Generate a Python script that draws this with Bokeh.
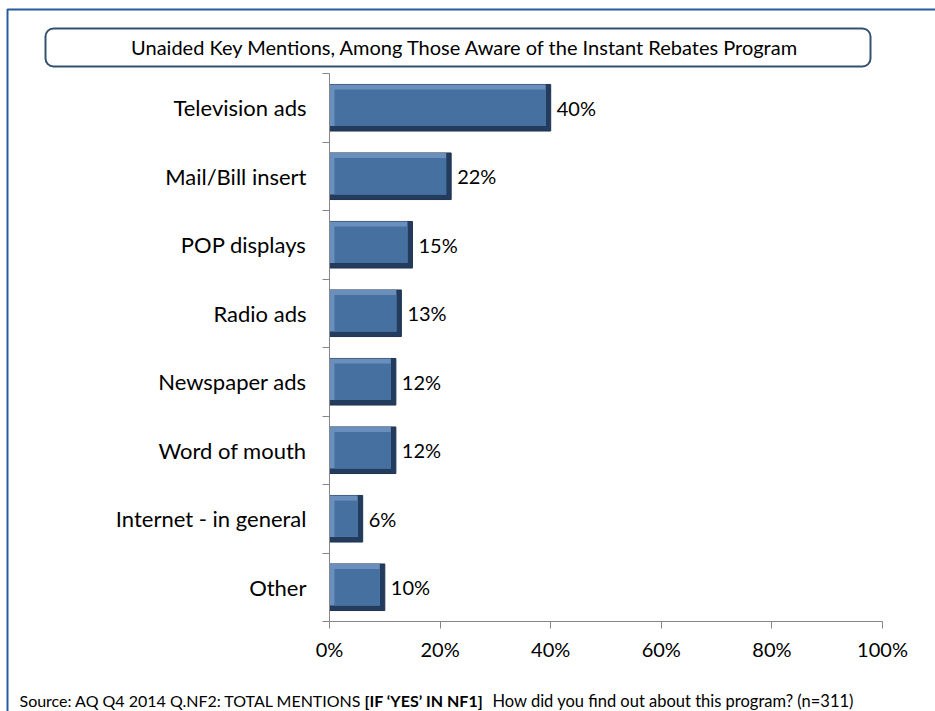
from bokeh.plotting import figure
from bokeh.models import (FixedTicker, Label, BoxAnnotation, ColumnDataSource,
                          LinearAxis, Range1d)
from bokeh.core.properties import value
from bokeh.embed import file_html
from bokeh.resources import INLINE

# ---- data ----
categories = ["Television ads", "Mail/Bill insert", "POP displays", "Radio ads",
              "Newspaper ads", "Word of mouth", "Internet - in general", "Other"]
values = [40, 22, 15, 13, 12, 12, 6, 10]
value_labels = ["40%", "22%", "15%", "13%", "12%", "12%", "6%", "10%"]
x_ticks = [0, 20, 40, 60, 80, 100]
x_tick_labels = ["0%", "20%", "40%", "60%", "80%", "100%"]
title_text = "Unaided Key Mentions, Among Those Aware of the Instant Rebates Program"
source_parts = ["Source: AQ Q4 2014 Q.NF2: TOTAL MENTIONS",
                "[IF \u2018YES\u2019 IN NF1]",
                "How did you find out about this program? (n=311)"]

FONT = "Lato"
W, H = 935, 711
n = len(categories)
centers = [n - 0.5 - i for i in range(n)]
bar_h = 0.68
bx = 0.9      # bevel width in x data units (~5px)
by = 0.075    # bevel height in y data units (~5px)

# plot area (pixels on canvas): 0% at 329, 100% at 882; top band edge 73, axis 621
AX_L, AX_R, AX_T, AX_B = 329, 882, 73, 621
xpx = (AX_R - AX_L) / 100.0
ypx = (AX_B - AX_T) / n

p = figure(width=W, height=H, output_backend="svg", toolbar_location=None,
           x_range=Range1d(-AX_L / xpx, 100 + (W - AX_R) / xpx),
           y_range=Range1d(-(H - AX_B) / ypx, n + AX_T / ypx),
           min_border=0, min_border_left=0, min_border_right=0,
           min_border_top=0, min_border_bottom=0,
           x_axis_location=None, y_axis_location=None)
p.outline_line_color = None
p.xgrid.visible = False
p.ygrid.visible = False
p.background_fill_color = "white"
p.border_fill_color = "white"

# x axis
xa = LinearAxis(ticker=FixedTicker(ticks=x_ticks, minor_ticks=[]),
                major_label_overrides={t: l for t, l in zip(x_ticks, x_tick_labels)},
                fixed_location=0, bounds=(0, 100))
xa.axis_line_color = "#868686"
xa.major_tick_line_color = "#868686"
xa.major_tick_in = 0
xa.major_tick_out = 7
xa.minor_tick_line_color = None
xa.major_label_standoff = 8
xa.major_label_text_font = FONT
xa.major_label_text_font_size = "20px"
xa.major_label_text_color = "#000000"
p.add_layout(xa, "below")

# y axis: labels at centers, ticks at band boundaries
ya = LinearAxis(ticker=FixedTicker(ticks=centers, minor_ticks=list(range(n + 1))),
                major_label_overrides={c: cat for c, cat in zip(centers, categories)},
                fixed_location=0, bounds=(0, n))
ya.axis_line_color = "#868686"
ya.major_tick_line_color = None
ya.major_tick_in = 0
ya.major_tick_out = 0
ya.minor_tick_line_color = "#868686"
ya.minor_tick_in = 0
ya.minor_tick_out = 7
ya.major_label_standoff = 16
ya.major_label_text_font = FONT
ya.major_label_text_font_size = "22px"
ya.major_label_text_color = "#000000"
p.add_layout(ya, "left")

src = ColumnDataSource(dict(
    y=centers, v=values, lab=value_labels,
    bot=[c - bar_h / 2 for c in centers], top=[c + bar_h / 2 for c in centers],
    bot_in=[c - bar_h / 2 + by for c in centers], top_in=[c + bar_h / 2 - by for c in centers],
    v_in=[v - bx for v in values],
))

# bevelled bars
p.quad(left=0, right="v", bottom="bot", top="top", source=src,
       fill_color="#233B5C", line_color="#1E3452", line_width=1)
p.quad(left=0, right="v_in", bottom="bot_in", top="top", source=src,
       fill_color="#6A8FBC", line_color=None)
p.quad(left=bx, right="v_in", bottom="bot_in", top="top_in", source=src,
       fill_color="#46709F", line_color=None)

# value labels
p.text(x="v", y="y", text="lab", source=src, x_offset=6,
       text_baseline="middle", text_align="left",
       text_font=value(FONT), text_font_size="20px", text_color="#000000")

# screen units: x from canvas left, y up from canvas bottom (frame = whole canvas)
def sy(y_top):
    return H - y_top

# outer frame
p.add_layout(BoxAnnotation(left=7, right=W + 10, top=sy(9), bottom=-10,
                           left_units="screen", right_units="screen",
                           top_units="screen", bottom_units="screen",
                           fill_color=None, fill_alpha=0, line_alpha=1.0,
                           line_color="#2A5A9E", line_width=2))

# title box
p.add_layout(BoxAnnotation(left=45, right=870, top=sy(28), bottom=sy(66),
                           left_units="screen", right_units="screen",
                           top_units="screen", bottom_units="screen",
                           fill_color="white", fill_alpha=1.0, line_alpha=1.0,
                           line_color="#34506F", line_width=2, border_radius=8))
p.add_layout(Label(x=465, y=sy(46), x_units="screen", y_units="screen",
                   text=title_text, text_align="center", text_baseline="middle",
                   text_font=FONT, text_font_size="20px", text_color="#000000"))

# source note
sx = [19, 364, 492]
sizes = ["16px", "16px", "16.5px"]
for i, part in enumerate(source_parts):
    p.add_layout(Label(x=sx[i], y=sy(700), x_units="screen", y_units="screen",
                       text=part, text_align="left", text_baseline="middle",
                       text_font=FONT, text_font_size=sizes[i],
                       text_font_style="bold" if i == 1 else "normal",
                       text_color="#000000"))

open("out.html", "w").write(file_html(p, INLINE))
